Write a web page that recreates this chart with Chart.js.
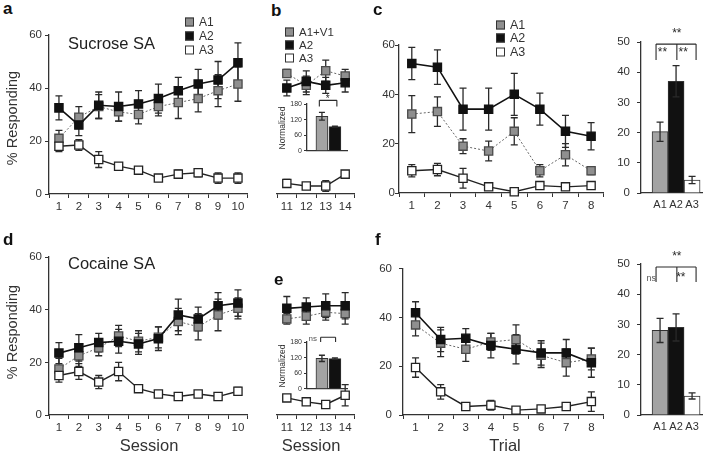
<!DOCTYPE html>
<html>
<head>
<meta charset="utf-8">
<script src="https://cdn.jsdelivr.net/npm/chart.js@4.4.1/dist/chart.umd.min.js"></script>
<style>
  body { margin: 0; width: 712px; height: 457px; position: relative; overflow: hidden; background: #fff;
         font-family: "Liberation Sans", Arial, sans-serif; color: #333; }
  canvas { position: absolute; }
  .t { position: absolute; white-space: nowrap; transform: translate(-50%, -50%); }
  .tl { position: absolute; white-space: nowrap; transform: translateY(-50%); }
  .letter { position: absolute; font-weight: bold; font-size: 17px; color: #111; transform: translateY(-50%); }
  .rot { position: absolute; white-space: nowrap; transform: translate(-50%, -50%) rotate(-90deg); }
  .sq { position: absolute; width: 7px; height: 7px; border: 1px solid #333; transform: translateY(-50%); }
</style>
</head>
<body>
<canvas id="cA"></canvas>
<canvas id="cB"></canvas>
<canvas id="cInsetB"></canvas>
<canvas id="cC"></canvas>
<canvas id="cCbar"></canvas>
<canvas id="cD"></canvas>
<canvas id="cE"></canvas>
<canvas id="cInsetE"></canvas>
<canvas id="cF"></canvas>
<canvas id="cFbar"></canvas>

<div class="letter" style="left:3px;top:9px">a</div>
<div class="letter" style="left:271px;top:11px">b</div>
<div class="letter" style="left:373px;top:10px">c</div>
<div class="letter" style="left:3px;top:240px">d</div>
<div class="letter" style="left:274px;top:280px">e</div>
<div class="letter" style="left:375px;top:240px">f</div>

<div class="tl" style="left:68px;top:43px;font-size:16.5px;color:#222">Sucrose SA</div>
<div class="tl" style="left:68px;top:263px;font-size:16.5px;color:#222">Cocaine SA</div>
<div class="rot" style="left:12px;top:118px;font-size:14.5px">% Responding</div>
<div class="rot" style="left:12px;top:332px;font-size:14.5px">% Responding</div>
<div class="t" style="left:149px;top:445px;font-size:16.5px">Session</div>
<div class="t" style="left:311px;top:445px;font-size:16.5px">Session</div>
<div class="t" style="left:505px;top:445px;font-size:16.5px">Trial</div>
<div class="rot" style="left:282px;top:128px;font-size:8.5px">Normalized</div>
<div class="rot" style="left:282px;top:366px;font-size:8.5px">Normalized</div>

<div id="legends"></div>

<script>
// ---- data ----
const sessions1 = ['1', '2', '3', '4', '5', '6', '7', '8', '9', '10'];
const sessions2 = ['11', '12', '13', '14'];
const trialLabels = ['1', '2', '3', '4', '5', '6', '7', '8'];
const groupLabels = ['A1', 'A2', 'A3'];
const insetGroups = ['A1', 'A2'];

// a: sucrose SA, sessions 1-10
const sucA1 = [21, 29, 33, 31, 30, 33, 34.5, 36, 39, 41.5];
const sucA1Err = [3, 4, 4.5, 3.5, 3.5, 3.5, 6, 5, 6, 6.5];
const sucA2 = [32.5, 26, 33.5, 33, 34, 36, 39, 41.5, 43, 49.5];
const sucA2Err = [4.5, 4, 5, 5.5, 5, 5.5, 5, 5.5, 7, 7.5];
const sucA3 = [18, 18.5, 13, 10.5, 9, 6, 7.5, 8, 6, 6];
const sucA3Err = [2, 2, 3, 1, 1, 1, 1.5, 1.5, 2, 2];

// b: sessions 11-14
const sucBA1 = [45.5, 41, 46.5, 44.5];
const sucBA1Err = [1.5, 3.5, 4, 2.5];
const sucBA2 = [40, 42.5, 41, 42];
const sucBA2Err = [3, 4, 3, 3.5];
const sucBA3 = [4, 3, 3, 7.5];
const sucBA3Err = [1.5, 1, 2, 0.5];
const sucNorm = [133, 93];
const sucNormErr = [15, 2];

// c: sucrose trials
const sucTrA1 = [32, 33, 19, 17, 25, 9, 15.5, 9];
const sucTrA1Err = [7.5, 6, 3, 4, 5.5, 2.5, 4.5, 1.5];
const sucTrA2 = [52.5, 51, 34, 34, 40, 34, 25, 23];
const sucTrA2Err = [6.5, 7, 8.5, 8.5, 8.5, 6.5, 6.5, 5.5];
const sucTrA3 = [9, 9.5, 6, 2.5, 0.5, 3, 2.5, 3];
const sucTrA3Err = [2.5, 2.5, 4, 1, 0.5, 1, 1, 1];
const sucMean = [20.3, 37, 4.3];
const sucMeanErr = [3.2, 5.2, 1.2];

// d: cocaine SA, sessions 1-10
const cocA1 = [17.5, 22.5, 25.5, 30, 28, 29.5, 35.5, 33.5, 38, 40.5];
const cocA1Err = [4, 4, 3, 4, 4, 4, 5, 5, 6, 4];
const cocA2 = [23.5, 25.5, 27.5, 28, 27, 29, 38, 36.5, 41.5, 42.5];
const cocA2Err = [4, 5, 3.5, 4.5, 4, 4.5, 6, 4.5, 5, 5];
const cocA3 = [15, 16.5, 12.5, 16.5, 10, 8, 7, 8, 7, 9];
const cocA3Err = [2.5, 3, 2.5, 3.5, 1, 1, 1, 1, 1, 1.5];

// e: sessions 11-14
const cocBA1 = [36.5, 37.5, 39, 38.5];
const cocBA1Err = [2, 3, 3, 4];
const cocBA2 = [40.5, 41, 41.5, 41.5];
const cocBA2Err = [4.5, 3.5, 4.5, 5];
const cocBA3 = [6.5, 5, 4, 7.5];
const cocBA3Err = [1, 1, 1, 4];
const cocNorm = [117, 116];
const cocNormErr = [12, 3];

// f: cocaine trials
const cocTrA1 = [37, 29.5, 27, 30, 31, 24.5, 21.5, 23];
const cocTrA1Err = [4.5, 5.5, 5, 3.5, 6, 5, 5.5, 4.5];
const cocTrA2 = [42, 31, 31.5, 28.5, 27, 25.5, 25.5, 21.5];
const cocTrA2Err = [4.5, 5, 4, 5, 6, 5, 5.5, 6];
const cocTrA3 = [19.5, 9.5, 3.5, 4, 2, 2.5, 3.5, 5.5];
const cocTrA3Err = [4, 3, 1, 2, 1, 1, 1, 4];
const cocMean = [28, 29, 6.3];
const cocMeanErr = [4, 4.5, 1];

// ---- styles / helpers ----
const FONT = '"Liberation Sans", Arial, sans-serif';
const INK = '#2a2a2a';
const SERIES = {
  A1: { line: '#666', fill: '#8f8f8f', edge: '#4a4a4a', dash: [2, 2], width: 1, bar: '#a3a3a3' },
  A2: { line: '#111', fill: '#111', edge: '#111', dash: [], width: 1.6, bar: '#111' },
  A3: { line: '#222', fill: '#fff', edge: '#222', dash: [], width: 1.4, bar: '#fff' }
};

const errorBars = {
  id: 'errorBars',
  beforeDatasetsDraw(chart) { if (chart.config.type === 'line') drawErrors(chart); },
  afterDatasetsDraw(chart) { if (chart.config.type === 'bar') drawErrors(chart); }
};

function drawErrors(chart) {
  const ctx = chart.ctx, y = chart.scales.y;
  ctx.save();
  ctx.strokeStyle = INK;
  ctx.lineWidth = 1.3;
  chart.data.datasets.forEach((ds, i) => {
    if (!ds.errors) return;
    chart.getDatasetMeta(i).data.forEach((el, j) => {
      const v = typeof ds.data[j] === 'object' ? ds.data[j].y : ds.data[j];
      const e = ds.errors[j];
      const top = y.getPixelForValue(v + e), bot = y.getPixelForValue(Math.max(v - e, 0));
      const cap = ds.capHalf || 3.5;
      ctx.beginPath();
      ctx.moveTo(el.x, top); ctx.lineTo(el.x, bot);
      ctx.moveTo(el.x - cap, top); ctx.lineTo(el.x + cap, top);
      ctx.moveTo(el.x - cap, bot); ctx.lineTo(el.x + cap, bot);
      ctx.stroke();
    });
  });
  ctx.restore();
}

const sigMarks = {
  id: 'sigMarks',
  afterDraw(chart, args, opts) {
    const { ctx, scales: { x, y } } = chart;
    ctx.save();
    ctx.strokeStyle = INK;
    ctx.lineWidth = 1.1;
    (opts.brackets || []).forEach(b => {
      const top = y.getPixelForValue(b.top), foot = y.getPixelForValue(b.foot);
      const xs = b.xs.map(v => x.getPixelForValue(v));
      ctx.beginPath();
      ctx.moveTo(xs[0], top); ctx.lineTo(xs[xs.length - 1], top);
      xs.forEach(px => { ctx.moveTo(px, top); ctx.lineTo(px, foot); });
      ctx.stroke();
    });
    (opts.texts || []).forEach(t => {
      ctx.fillStyle = t.color || INK;
      ctx.font = (t.size || 12) + 'px ' + FONT;
      ctx.textAlign = 'center';
      ctx.textBaseline = 'middle';
      ctx.fillText(t.text, x.getPixelForValue(t.x), y.getPixelForValue(t.y));
    });
    ctx.restore();
  }
};

function place(id, b) {
  const c = document.getElementById(id);
  const w = b.R - b.L + b.yw + b.pr, h = b.B - b.T + b.pt + b.xh;
  c.width = w; c.height = h;
  c.style.left = (b.L - b.yw) + 'px';
  c.style.top = (b.T - b.pt) + 'px';
  c.style.width = w + 'px';
  c.style.height = h + 'px';
  return c;
}

function lineSet(kind, data, errors) {
  const s = SERIES[kind];
  return {
    label: kind, data, errors,
    borderColor: s.line, borderWidth: s.width, borderDash: s.dash,
    pointStyle: 'rect', pointRadius: 5.8, pointBorderWidth: 1.3,
    pointBackgroundColor: s.fill, pointBorderColor: s.edge,
    clip: false, tension: 0
  };
}

function yAxis(max, step, w, gap, size, show) {
  return {
    display: show, min: 0, max: max,
    ticks: { stepSize: step, color: '#333', padding: gap, font: { size: size, family: FONT } },
    grid: { drawOnChartArea: false, tickLength: size < 9 ? 3 : 4, color: '#333', lineWidth: 1 },
    border: { color: '#333', width: 1.3 },
    afterFit: s => { s.width = w; }
  };
}

function makeLine(id, box, labels, sets, showY, gap) {
  return new Chart(place(id, box), {
    type: 'line',
    data: { labels, datasets: sets },
    options: {
      responsive: false, animation: false, devicePixelRatio: 1,
      layout: { padding: { top: box.pt, right: box.pr, left: 0, bottom: 0 } },
      plugins: { legend: { display: false }, tooltip: { enabled: false } },
      scales: {
        x: {
          offset: true,
          ticks: { color: '#333', padding: 2, maxRotation: 0, autoSkip: false, font: { size: 11.5, family: FONT } },
          grid: { offset: true, drawOnChartArea: false, tickLength: 4, color: '#333' },
          border: { color: '#333', width: 1.3 },
          afterFit: s => { s.height = box.xh; }
        },
        y: yAxis(60, 20, box.yw, gap, 11.5, showY)
      }
    },
    plugins: [errorBars]
  });
}

function makeBars(id, box, cats, vals, errs, colors, xmin, xmax, ymax, step, fontSize, gap, sig, showCats, thick) {
  return new Chart(place(id, box), {
    type: 'bar',
    data: {
      datasets: [{
        data: vals.map((v, i) => ({ x: i + 1, y: v })),
        errors: errs,
        capHalf: fontSize < 9 ? 3 : 3.5,
        backgroundColor: colors,
        borderColor: '#333', borderWidth: 1,
        barThickness: thick
      }]
    },
    options: {
      responsive: false, animation: false, devicePixelRatio: 1,
      layout: { padding: { top: box.pt, right: box.pr, left: 0, bottom: 0 } },
      plugins: { legend: { display: false }, tooltip: { enabled: false }, sigMarks: sig },
      scales: {
        x: {
          type: 'linear', min: xmin, max: xmax, offset: false, bounds: 'ticks',
          afterBuildTicks: s => { s.ticks = cats.map((c, i) => ({ value: i + 1 })); },
          ticks: { display: showCats, color: '#333', padding: 5, font: { size: 11, family: FONT },
                   callback: v => cats[v - 1] },
          grid: { display: false, drawTicks: false, offset: false },
          border: { color: '#333', width: 1.3 },
          afterFit: s => { s.height = box.xh; }
        },
        y: yAxis(ymax, step, box.yw, gap, fontSize, true)
      }
    },
    plugins: [errorBars, sigMarks]
  });
}

const barColors = groupLabels.map(g => SERIES[g].bar);

// ---- panels ----
makeLine('cA', { L: 49, T: 35, R: 249, B: 194, yw: 49, pr: 6, pt: 12, xh: 30 }, sessions1,
  [lineSet('A3', sucA3, sucA3Err), lineSet('A2', sucA2, sucA2Err), lineSet('A1', sucA1, sucA1Err)], true, 3);

makeLine('cB', { L: 270, T: 35, R: 356, B: 194, yw: 0, pr: 6, pt: 12, xh: 30 }, sessions2,
  [lineSet('A3', sucBA3, sucBA3Err), lineSet('A2', sucBA2, sucBA2Err), lineSet('A1', sucBA1, sucBA1Err)], false, 3);

makeBars('cInsetB', { L: 307, T: 104, R: 347, B: 154, yw: 24, pr: 4, pt: 14, xh: 3 }, insetGroups,
  sucNorm, sucNormErr, [SERIES.A1.bar, SERIES.A2.bar], -0.15, 2.93, 180, 60, 7, 2,
  { brackets: [{ xs: [0.8, 2.15], top: 194, foot: 170 }], texts: [{ text: '*', x: 1.45, y: 200, size: 10 }] }, false, 12);

makeLine('cC', { L: 399, T: 45, R: 605, B: 193, yw: 45, pr: 6, pt: 12, xh: 30 }, trialLabels,
  [lineSet('A3', sucTrA3, sucTrA3Err), lineSet('A2', sucTrA2, sucTrA2Err), lineSet('A1', sucTrA1, sucTrA1Err)], true, 0);

makeBars('cCbar', { L: 641, T: 42, R: 702, B: 193, yw: 30, pr: 8, pt: 22, xh: 24 }, groupLabels,
  sucMean, sucMeanErr, barColors, -0.19, 3.62, 50, 10, 11.5, 7,
  { brackets: [{ xs: [0.75, 2.05, 3.25], top: 49.3, foot: 44 }],
    texts: [{ text: '**', x: 2.05, y: 52.8, size: 12 }, { text: '**', x: 1.15, y: 46.3, size: 12 },
            { text: '**', x: 2.45, y: 46.3, size: 12 }] }, true, 16);

makeLine('cD', { L: 49, T: 257, R: 249, B: 415, yw: 49, pr: 6, pt: 12, xh: 26 }, sessions1,
  [lineSet('A3', cocA3, cocA3Err), lineSet('A2', cocA2, cocA2Err), lineSet('A1', cocA1, cocA1Err)], true, 3);

makeLine('cE', { L: 270, T: 257, R: 356, B: 415, yw: 0, pr: 6, pt: 12, xh: 26 }, sessions2,
  [lineSet('A3', cocBA3, cocBA3Err), lineSet('A2', cocBA2, cocBA2Err), lineSet('A1', cocBA1, cocBA1Err)], false, 3);

makeBars('cInsetE', { L: 307, T: 342, R: 347, B: 392, yw: 24, pr: 4, pt: 14, xh: 3 }, insetGroups,
  cocNorm, cocNormErr, [SERIES.A1.bar, SERIES.A2.bar], -0.15, 2.93, 180, 60, 7, 2,
  { brackets: [{ xs: [0.9, 2.05], top: 198, foot: 180 }], texts: [{ text: 'ns', x: 0.3, y: 194, size: 8, color: '#555' }] }, false, 12);

makeLine('cF', { L: 403, T: 267, R: 605, B: 415, yw: 45, pr: 6, pt: 12, xh: 26 }, trialLabels,
  [lineSet('A3', cocTrA3, cocTrA3Err), lineSet('A2', cocTrA2, cocTrA2Err), lineSet('A1', cocTrA1, cocTrA1Err)], true, 7);

makeBars('cFbar', { L: 641, T: 264, R: 702, B: 415, yw: 30, pr: 8, pt: 20, xh: 24 }, groupLabels,
  cocMean, cocMeanErr, barColors, -0.19, 3.62, 50, 10, 11.5, 7,
  { brackets: [{ xs: [0.75, 2.05, 3.25], top: 49, foot: 44 }],
    texts: [{ text: '**', x: 2.05, y: 52.3, size: 12 }, { text: '**', x: 2.3, y: 45.5, size: 12 },
            { text: 'ns', x: 0.45, y: 45.3, size: 9, color: '#555' }] }, true, 16);

// ---- legends ----
function legend(left, tops, names, size) {
  const host = document.getElementById('legends');
  names.forEach((n, i) => {
    const key = groupLabels[i];
    const sq = document.createElement('div');
    sq.className = 'sq';
    sq.style.left = left + 'px';
    sq.style.top = tops[i] + 'px';
    sq.style.background = SERIES[key].fill;
    host.appendChild(sq);
    const tx = document.createElement('div');
    tx.className = 'tl';
    tx.style.left = (left + 14) + 'px';
    tx.style.top = tops[i] + 'px';
    tx.style.fontSize = size + 'px';
    tx.textContent = n;
    host.appendChild(tx);
  });
}
legend(185, [22, 36, 50], groupLabels, 12);
legend(285, [32, 45, 58], ['A1+V1', 'A2', 'A3'], 11.5);
legend(496, [25, 38, 52], groupLabels, 12.5);
</script>
</body>
</html>
